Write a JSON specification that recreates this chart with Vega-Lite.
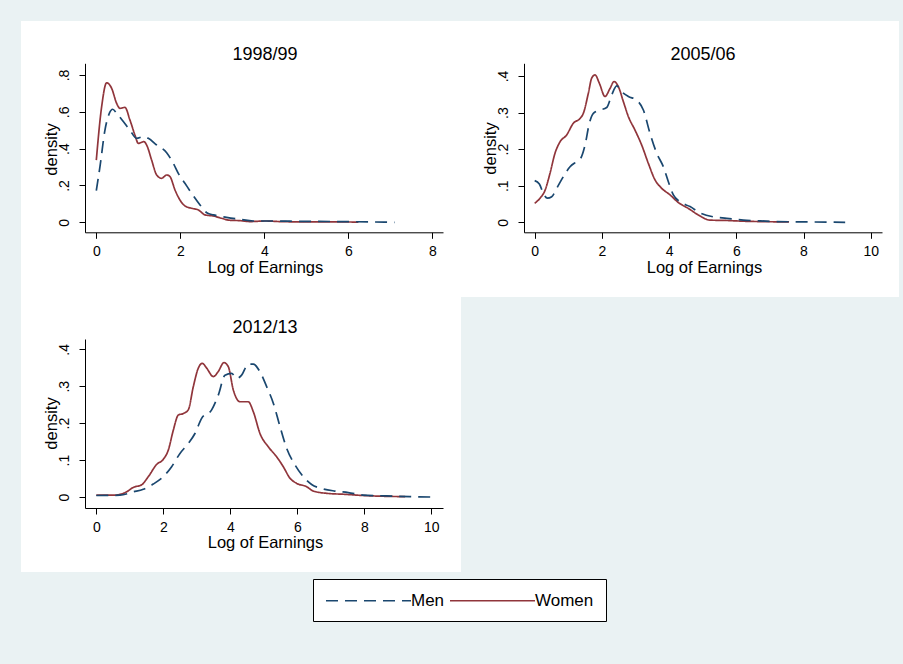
{
  "$schema": "https://vega.github.io/schema/vega-lite/v6.json",
  "background": "#EAF2F3",
  "padding": {"left": 21, "top": 21, "right": 4, "bottom": 42},
  "config": {
    "font": "Liberation Sans",
    "view": {"fill": "white", "stroke": null},
    "axis": {"grid": false, "domainColor": "black", "domainWidth": 1, "tickColor": "black", "tickSize": 6, "tickWidth": 1, "labelColor": "black", "labelFontSize": 14, "labelFlush": false, "labelOverlap": false, "titleColor": "black", "titleFontWeight": "normal", "titleFontSize": 16.5, "zindex": 1},
    "title": {"fontSize": 18, "fontWeight": "normal", "color": "black", "anchor": "middle", "frame": "group", "baseline": "alphabetic"},
    "legend": {"orient": "none", "legendX": 292, "legendY": 558, "direction": "horizontal", "title": null, "symbolType": "M-5,0H5", "symbolSize": 289, "symbolOffset": 34, "symbolStrokeWidth": 1.6, "labelFontSize": 17, "labelColor": "black", "labelOffset": 33, "columnPadding": 1, "padding": 12, "strokeColor": "black", "fillColor": "white"}
  },
  "data": {"values": [
    {"year":"1998/99","sex":"Women","x":0,"y":0.338},
    {"year":"1998/99","sex":"Women","x":0.127,"y":0.628},
    {"year":"1998/99","sex":"Women","x":0.246,"y":0.758},
    {"year":"1998/99","sex":"Women","x":0.365,"y":0.728},
    {"year":"1998/99","sex":"Women","x":0.484,"y":0.646},
    {"year":"1998/99","sex":"Women","x":0.563,"y":0.619},
    {"year":"1998/99","sex":"Women","x":0.683,"y":0.624},
    {"year":"1998/99","sex":"Women","x":0.8,"y":0.556},
    {"year":"1998/99","sex":"Women","x":0.92,"y":0.474},
    {"year":"1998/99","sex":"Women","x":1.0,"y":0.429},
    {"year":"1998/99","sex":"Women","x":1.135,"y":0.438},
    {"year":"1998/99","sex":"Women","x":1.198,"y":0.42},
    {"year":"1998/99","sex":"Women","x":1.317,"y":0.338},
    {"year":"1998/99","sex":"Women","x":1.437,"y":0.257},
    {"year":"1998/99","sex":"Women","x":1.556,"y":0.239},
    {"year":"1998/99","sex":"Women","x":1.675,"y":0.257},
    {"year":"1998/99","sex":"Women","x":1.754,"y":0.248},
    {"year":"1998/99","sex":"Women","x":1.873,"y":0.176},
    {"year":"1998/99","sex":"Women","x":1.992,"y":0.121},
    {"year":"1998/99","sex":"Women","x":2.11,"y":0.089},
    {"year":"1998/99","sex":"Women","x":2.27,"y":0.076},
    {"year":"1998/99","sex":"Women","x":2.43,"y":0.067},
    {"year":"1998/99","sex":"Women","x":2.59,"y":0.04},
    {"year":"1998/99","sex":"Women","x":2.79,"y":0.034},
    {"year":"1998/99","sex":"Women","x":2.98,"y":0.022},
    {"year":"1998/99","sex":"Women","x":3.18,"y":0.011},
    {"year":"1998/99","sex":"Women","x":3.42,"y":0.009},
    {"year":"1998/99","sex":"Women","x":3.66,"y":0.004},
    {"year":"1998/99","sex":"Women","x":4.02,"y":0.007},
    {"year":"1998/99","sex":"Women","x":4.37,"y":0.004},
    {"year":"1998/99","sex":"Women","x":4.93,"y":0.002},
    {"year":"1998/99","sex":"Women","x":5.72,"y":0.002},
    {"year":"1998/99","sex":"Women","x":6.24,"y":0.001},
    {"year":"1998/99","sex":"Men","x":0,"y":0.172},
    {"year":"1998/99","sex":"Men","x":0.087,"y":0.302},
    {"year":"1998/99","sex":"Men","x":0.206,"y":0.501},
    {"year":"1998/99","sex":"Men","x":0.31,"y":0.592},
    {"year":"1998/99","sex":"Men","x":0.389,"y":0.614},
    {"year":"1998/99","sex":"Men","x":0.484,"y":0.592},
    {"year":"1998/99","sex":"Men","x":0.643,"y":0.547},
    {"year":"1998/99","sex":"Men","x":0.8,"y":0.501},
    {"year":"1998/99","sex":"Men","x":0.96,"y":0.456},
    {"year":"1998/99","sex":"Men","x":1.12,"y":0.465},
    {"year":"1998/99","sex":"Men","x":1.238,"y":0.456},
    {"year":"1998/99","sex":"Men","x":1.437,"y":0.42},
    {"year":"1998/99","sex":"Men","x":1.675,"y":0.378},
    {"year":"1998/99","sex":"Men","x":1.833,"y":0.32},
    {"year":"1998/99","sex":"Men","x":1.952,"y":0.266},
    {"year":"1998/99","sex":"Men","x":2.11,"y":0.212},
    {"year":"1998/99","sex":"Men","x":2.27,"y":0.157},
    {"year":"1998/99","sex":"Men","x":2.47,"y":0.094},
    {"year":"1998/99","sex":"Men","x":2.63,"y":0.052},
    {"year":"1998/99","sex":"Men","x":2.79,"y":0.04},
    {"year":"1998/99","sex":"Men","x":3.1,"y":0.027},
    {"year":"1998/99","sex":"Men","x":3.42,"y":0.016},
    {"year":"1998/99","sex":"Men","x":3.74,"y":0.007},
    {"year":"1998/99","sex":"Men","x":4.13,"y":0.007},
    {"year":"1998/99","sex":"Men","x":4.93,"y":0.005},
    {"year":"1998/99","sex":"Men","x":5.72,"y":0.004},
    {"year":"1998/99","sex":"Men","x":6.52,"y":0.002},
    {"year":"1998/99","sex":"Men","x":7.1,"y":0.0},
    {"year":"2005/06","sex":"Women","x":0,"y":0.052},
    {"year":"2005/06","sex":"Women","x":0.159,"y":0.066},
    {"year":"2005/06","sex":"Women","x":0.31,"y":0.088},
    {"year":"2005/06","sex":"Women","x":0.456,"y":0.134},
    {"year":"2005/06","sex":"Women","x":0.605,"y":0.189},
    {"year":"2005/06","sex":"Women","x":0.754,"y":0.22},
    {"year":"2005/06","sex":"Women","x":0.952,"y":0.239},
    {"year":"2005/06","sex":"Women","x":1.151,"y":0.271},
    {"year":"2005/06","sex":"Women","x":1.349,"y":0.284},
    {"year":"2005/06","sex":"Women","x":1.448,"y":0.298},
    {"year":"2005/06","sex":"Women","x":1.597,"y":0.353},
    {"year":"2005/06","sex":"Women","x":1.696,"y":0.394},
    {"year":"2005/06","sex":"Women","x":1.796,"y":0.403},
    {"year":"2005/06","sex":"Women","x":1.925,"y":0.38},
    {"year":"2005/06","sex":"Women","x":2.093,"y":0.344},
    {"year":"2005/06","sex":"Women","x":2.242,"y":0.366},
    {"year":"2005/06","sex":"Women","x":2.361,"y":0.385},
    {"year":"2005/06","sex":"Women","x":2.49,"y":0.371},
    {"year":"2005/06","sex":"Women","x":2.639,"y":0.33},
    {"year":"2005/06","sex":"Women","x":2.788,"y":0.289},
    {"year":"2005/06","sex":"Women","x":2.986,"y":0.252},
    {"year":"2005/06","sex":"Women","x":3.185,"y":0.211},
    {"year":"2005/06","sex":"Women","x":3.383,"y":0.161},
    {"year":"2005/06","sex":"Women","x":3.581,"y":0.116},
    {"year":"2005/06","sex":"Women","x":3.78,"y":0.093},
    {"year":"2005/06","sex":"Women","x":4.028,"y":0.075},
    {"year":"2005/06","sex":"Women","x":4.276,"y":0.054},
    {"year":"2005/06","sex":"Women","x":4.573,"y":0.038},
    {"year":"2005/06","sex":"Women","x":4.871,"y":0.02},
    {"year":"2005/06","sex":"Women","x":5.218,"y":0.006},
    {"year":"2005/06","sex":"Women","x":5.714,"y":0.005},
    {"year":"2005/06","sex":"Women","x":6.21,"y":0.003},
    {"year":"2005/06","sex":"Women","x":6.71,"y":0.002},
    {"year":"2005/06","sex":"Women","x":7.57,"y":0.001},
    {"year":"2005/06","sex":"Men","x":0,"y":0.114},
    {"year":"2005/06","sex":"Men","x":0.139,"y":0.105},
    {"year":"2005/06","sex":"Men","x":0.258,"y":0.079},
    {"year":"2005/06","sex":"Men","x":0.377,"y":0.066},
    {"year":"2005/06","sex":"Men","x":0.506,"y":0.07},
    {"year":"2005/06","sex":"Men","x":0.655,"y":0.093},
    {"year":"2005/06","sex":"Men","x":0.853,"y":0.125},
    {"year":"2005/06","sex":"Men","x":1.052,"y":0.152},
    {"year":"2005/06","sex":"Men","x":1.25,"y":0.166},
    {"year":"2005/06","sex":"Men","x":1.369,"y":0.175},
    {"year":"2005/06","sex":"Men","x":1.498,"y":0.211},
    {"year":"2005/06","sex":"Men","x":1.627,"y":0.271},
    {"year":"2005/06","sex":"Men","x":1.746,"y":0.298},
    {"year":"2005/06","sex":"Men","x":1.944,"y":0.307},
    {"year":"2005/06","sex":"Men","x":2.143,"y":0.314},
    {"year":"2005/06","sex":"Men","x":2.292,"y":0.348},
    {"year":"2005/06","sex":"Men","x":2.44,"y":0.373},
    {"year":"2005/06","sex":"Men","x":2.589,"y":0.357},
    {"year":"2005/06","sex":"Men","x":2.788,"y":0.344},
    {"year":"2005/06","sex":"Men","x":3.036,"y":0.334},
    {"year":"2005/06","sex":"Men","x":3.234,"y":0.307},
    {"year":"2005/06","sex":"Men","x":3.433,"y":0.243},
    {"year":"2005/06","sex":"Men","x":3.631,"y":0.189},
    {"year":"2005/06","sex":"Men","x":3.829,"y":0.152},
    {"year":"2005/06","sex":"Men","x":3.978,"y":0.111},
    {"year":"2005/06","sex":"Men","x":4.127,"y":0.075},
    {"year":"2005/06","sex":"Men","x":4.325,"y":0.056},
    {"year":"2005/06","sex":"Men","x":4.623,"y":0.043},
    {"year":"2005/06","sex":"Men","x":4.921,"y":0.026},
    {"year":"2005/06","sex":"Men","x":5.317,"y":0.015},
    {"year":"2005/06","sex":"Men","x":5.714,"y":0.011},
    {"year":"2005/06","sex":"Men","x":6.21,"y":0.006},
    {"year":"2005/06","sex":"Men","x":6.706,"y":0.004},
    {"year":"2005/06","sex":"Men","x":7.2,"y":0.002},
    {"year":"2005/06","sex":"Men","x":8.19,"y":0.001},
    {"year":"2005/06","sex":"Men","x":9.24,"y":0.0},
    {"year":"2012/13","sex":"Women","x":0,"y":0.005},
    {"year":"2012/13","sex":"Women","x":0.507,"y":0.005},
    {"year":"2012/13","sex":"Women","x":0.706,"y":0.007},
    {"year":"2012/13","sex":"Women","x":0.905,"y":0.014},
    {"year":"2012/13","sex":"Women","x":1.104,"y":0.026},
    {"year":"2012/13","sex":"Women","x":1.353,"y":0.033},
    {"year":"2012/13","sex":"Women","x":1.552,"y":0.055},
    {"year":"2012/13","sex":"Women","x":1.8,"y":0.088},
    {"year":"2012/13","sex":"Women","x":2.0,"y":0.102},
    {"year":"2012/13","sex":"Women","x":2.149,"y":0.127},
    {"year":"2012/13","sex":"Women","x":2.299,"y":0.181},
    {"year":"2012/13","sex":"Women","x":2.448,"y":0.222},
    {"year":"2012/13","sex":"Women","x":2.597,"y":0.226},
    {"year":"2012/13","sex":"Women","x":2.746,"y":0.236},
    {"year":"2012/13","sex":"Women","x":2.896,"y":0.299},
    {"year":"2012/13","sex":"Women","x":3.045,"y":0.349},
    {"year":"2012/13","sex":"Women","x":3.164,"y":0.362},
    {"year":"2012/13","sex":"Women","x":3.294,"y":0.349},
    {"year":"2012/13","sex":"Women","x":3.493,"y":0.326},
    {"year":"2012/13","sex":"Women","x":3.642,"y":0.34},
    {"year":"2012/13","sex":"Women","x":3.811,"y":0.364},
    {"year":"2012/13","sex":"Women","x":3.94,"y":0.353},
    {"year":"2012/13","sex":"Women","x":4.09,"y":0.29},
    {"year":"2012/13","sex":"Women","x":4.289,"y":0.258},
    {"year":"2012/13","sex":"Women","x":4.537,"y":0.258},
    {"year":"2012/13","sex":"Women","x":4.687,"y":0.231},
    {"year":"2012/13","sex":"Women","x":4.886,"y":0.172},
    {"year":"2012/13","sex":"Women","x":5.134,"y":0.136},
    {"year":"2012/13","sex":"Women","x":5.383,"y":0.109},
    {"year":"2012/13","sex":"Women","x":5.582,"y":0.082},
    {"year":"2012/13","sex":"Women","x":5.781,"y":0.051},
    {"year":"2012/13","sex":"Women","x":5.98,"y":0.037},
    {"year":"2012/13","sex":"Women","x":6.279,"y":0.028},
    {"year":"2012/13","sex":"Women","x":6.478,"y":0.016},
    {"year":"2012/13","sex":"Women","x":6.876,"y":0.01},
    {"year":"2012/13","sex":"Women","x":7.473,"y":0.007},
    {"year":"2012/13","sex":"Women","x":7.97,"y":0.004},
    {"year":"2012/13","sex":"Women","x":8.567,"y":0.002},
    {"year":"2012/13","sex":"Women","x":9.22,"y":0.001},
    {"year":"2012/13","sex":"Men","x":0,"y":0.004},
    {"year":"2012/13","sex":"Men","x":0.706,"y":0.005},
    {"year":"2012/13","sex":"Men","x":1.104,"y":0.014},
    {"year":"2012/13","sex":"Men","x":1.403,"y":0.021},
    {"year":"2012/13","sex":"Men","x":1.701,"y":0.035},
    {"year":"2012/13","sex":"Men","x":2.0,"y":0.055},
    {"year":"2012/13","sex":"Men","x":2.249,"y":0.082},
    {"year":"2012/13","sex":"Men","x":2.498,"y":0.118},
    {"year":"2012/13","sex":"Men","x":2.746,"y":0.145},
    {"year":"2012/13","sex":"Men","x":2.945,"y":0.172},
    {"year":"2012/13","sex":"Men","x":3.144,"y":0.213},
    {"year":"2012/13","sex":"Men","x":3.443,"y":0.236},
    {"year":"2012/13","sex":"Men","x":3.642,"y":0.276},
    {"year":"2012/13","sex":"Men","x":3.841,"y":0.33},
    {"year":"2012/13","sex":"Men","x":4.04,"y":0.335},
    {"year":"2012/13","sex":"Men","x":4.189,"y":0.321},
    {"year":"2012/13","sex":"Men","x":4.338,"y":0.33},
    {"year":"2012/13","sex":"Men","x":4.537,"y":0.36},
    {"year":"2012/13","sex":"Men","x":4.687,"y":0.36},
    {"year":"2012/13","sex":"Men","x":4.886,"y":0.339},
    {"year":"2012/13","sex":"Men","x":5.085,"y":0.299},
    {"year":"2012/13","sex":"Men","x":5.284,"y":0.254},
    {"year":"2012/13","sex":"Men","x":5.483,"y":0.191},
    {"year":"2012/13","sex":"Men","x":5.682,"y":0.132},
    {"year":"2012/13","sex":"Men","x":5.93,"y":0.087},
    {"year":"2012/13","sex":"Men","x":6.179,"y":0.055},
    {"year":"2012/13","sex":"Men","x":6.428,"y":0.034},
    {"year":"2012/13","sex":"Men","x":6.726,"y":0.023},
    {"year":"2012/13","sex":"Men","x":7.124,"y":0.016},
    {"year":"2012/13","sex":"Men","x":7.522,"y":0.012},
    {"year":"2012/13","sex":"Men","x":7.97,"y":0.005},
    {"year":"2012/13","sex":"Men","x":8.667,"y":0.003},
    {"year":"2012/13","sex":"Men","x":9.363,"y":0.001},
    {"year":"2012/13","sex":"Men","x":10.0,"y":0.0}
  ]},
  "bounds": "flush",
  "spacing": 0,
  "columns": 2,
  "resolve": {"scale": {"x": "independent", "y": "independent"}},
  "concat": [
    {
      "width": 440, "height": 276,
      "title": {"text": "1998/99", "offset": -43, "dx": 24},
      "transform": [{"filter": "datum.year == '1998/99'"}],
      "mark": {"type": "line", "interpolate": "monotone", "strokeWidth": 1.7},
      "encoding": {
        "x": {"field": "x", "type": "quantitative", "scale": {"domain": [-1.793, 8.683], "nice": false, "zero": false},
          "axis": {"values": [0, 2, 4, 6, 8], "offset": -64.7, "domainDash": [358, 2000], "domainDashOffset": 2294, "labelPadding": 6, "title": "Log of Earnings", "titleX": 244, "titleY": 40.5, "titleBaseline": "alphabetic", "titleAlign": "center"}},
        "y": {"field": "y", "type": "quantitative", "scale": {"domain": [-0.4058, 1.0934], "nice": false, "zero": false},
          "axis": {"values": [0, 0.2, 0.4, 0.6, 0.8], "offset": -64, "domainDash": [169, 2000], "domainDashOffset": 2104.3, "labelAngle": 270, "labelPadding": 8, "labelExpr": "datum.value == 0 ? '0' : replace(format(datum.value, '.1f'), '0.', '.')", "title": "density", "titleX": -29, "titleY": 128, "titleAngle": 270, "titleBaseline": "alphabetic", "titleAlign": "center"}},
        "color": {"field": "sex", "type": "nominal", "scale": {"domain": ["Men", "Women"], "range": ["#1A476F", "#90353B"]}},
        "strokeDash": {"field": "sex", "type": "nominal", "scale": {"domain": ["Men", "Women"], "range": [[12, 7], [1, 0]]}}
      }
    },
    {
      "width": 438, "height": 276,
      "title": {"text": "2005/06", "offset": -43, "dx": 23},
      "transform": [{"filter": "datum.year == '2005/06'"}],
      "mark": {"type": "line", "interpolate": "monotone", "strokeWidth": 1.7},
      "encoding": {
        "x": {"field": "x", "type": "quantitative", "scale": {"domain": [-2.193, 10.842], "nice": false, "zero": false},
          "axis": {"values": [0, 2, 4, 6, 8, 10], "offset": -64.7, "domainDash": [358, 2000], "domainDashOffset": 2295, "labelPadding": 6, "title": "Log of Earnings", "titleX": 243, "titleY": 40.5, "titleBaseline": "alphabetic", "titleAlign": "center"}},
        "y": {"field": "y", "type": "quantitative", "scale": {"domain": [-0.2042, 0.5504], "nice": false, "zero": false},
          "axis": {"values": [0, 0.1, 0.2, 0.3, 0.4], "offset": -63, "domainDash": [169, 2000], "domainDashOffset": 2104.3, "labelAngle": 270, "labelPadding": 8, "labelExpr": "datum.value == 0 ? '0' : replace(format(datum.value, '.1f'), '0.', '.')", "title": "density", "titleX": -29, "titleY": 127, "titleAngle": 270, "titleBaseline": "alphabetic", "titleAlign": "center"}},
        "color": {"field": "sex", "type": "nominal", "scale": {"domain": ["Men", "Women"], "range": ["#1A476F", "#90353B"]}},
        "strokeDash": {"field": "sex", "type": "nominal", "scale": {"domain": ["Men", "Women"], "range": [[12, 7], [1, 0]]}}
      }
    },
    {
      "width": 440, "height": 275,
      "title": {"text": "2012/13", "offset": -40, "dx": 24},
      "transform": [{"filter": "datum.year == '2012/13'"}],
      "mark": {"type": "line", "interpolate": "monotone", "strokeWidth": 1.7},
      "encoding": {
        "x": {"field": "x", "type": "quantitative", "scale": {"domain": [-2.248, 10.887], "nice": false, "zero": false},
          "axis": {"values": [0, 2, 4, 6, 8, 10], "offset": -64, "domainDash": [358, 2000], "domainDashOffset": 2294, "labelPadding": 6, "title": "Log of Earnings", "titleX": 244, "titleY": 39.5, "titleBaseline": "alphabetic", "titleAlign": "center"}},
        "y": {"field": "y", "type": "quantitative", "scale": {"domain": [-0.2031, 0.5416], "nice": false, "zero": false},
          "axis": {"values": [0, 0.1, 0.2, 0.3, 0.4], "offset": -64, "domainDash": [169, 2000], "domainDashOffset": 2105, "labelAngle": 270, "labelPadding": 8, "labelExpr": "datum.value == 0 ? '0' : replace(format(datum.value, '.1f'), '0.', '.')", "title": "density", "titleX": -29, "titleY": 126, "titleAngle": 270, "titleBaseline": "alphabetic", "titleAlign": "center"}},
        "color": {"field": "sex", "type": "nominal", "scale": {"domain": ["Men", "Women"], "range": ["#1A476F", "#90353B"]}},
        "strokeDash": {"field": "sex", "type": "nominal", "scale": {"domain": ["Men", "Women"], "range": [[12, 7], [1, 0]]}}
      }
    }
  ]
}
